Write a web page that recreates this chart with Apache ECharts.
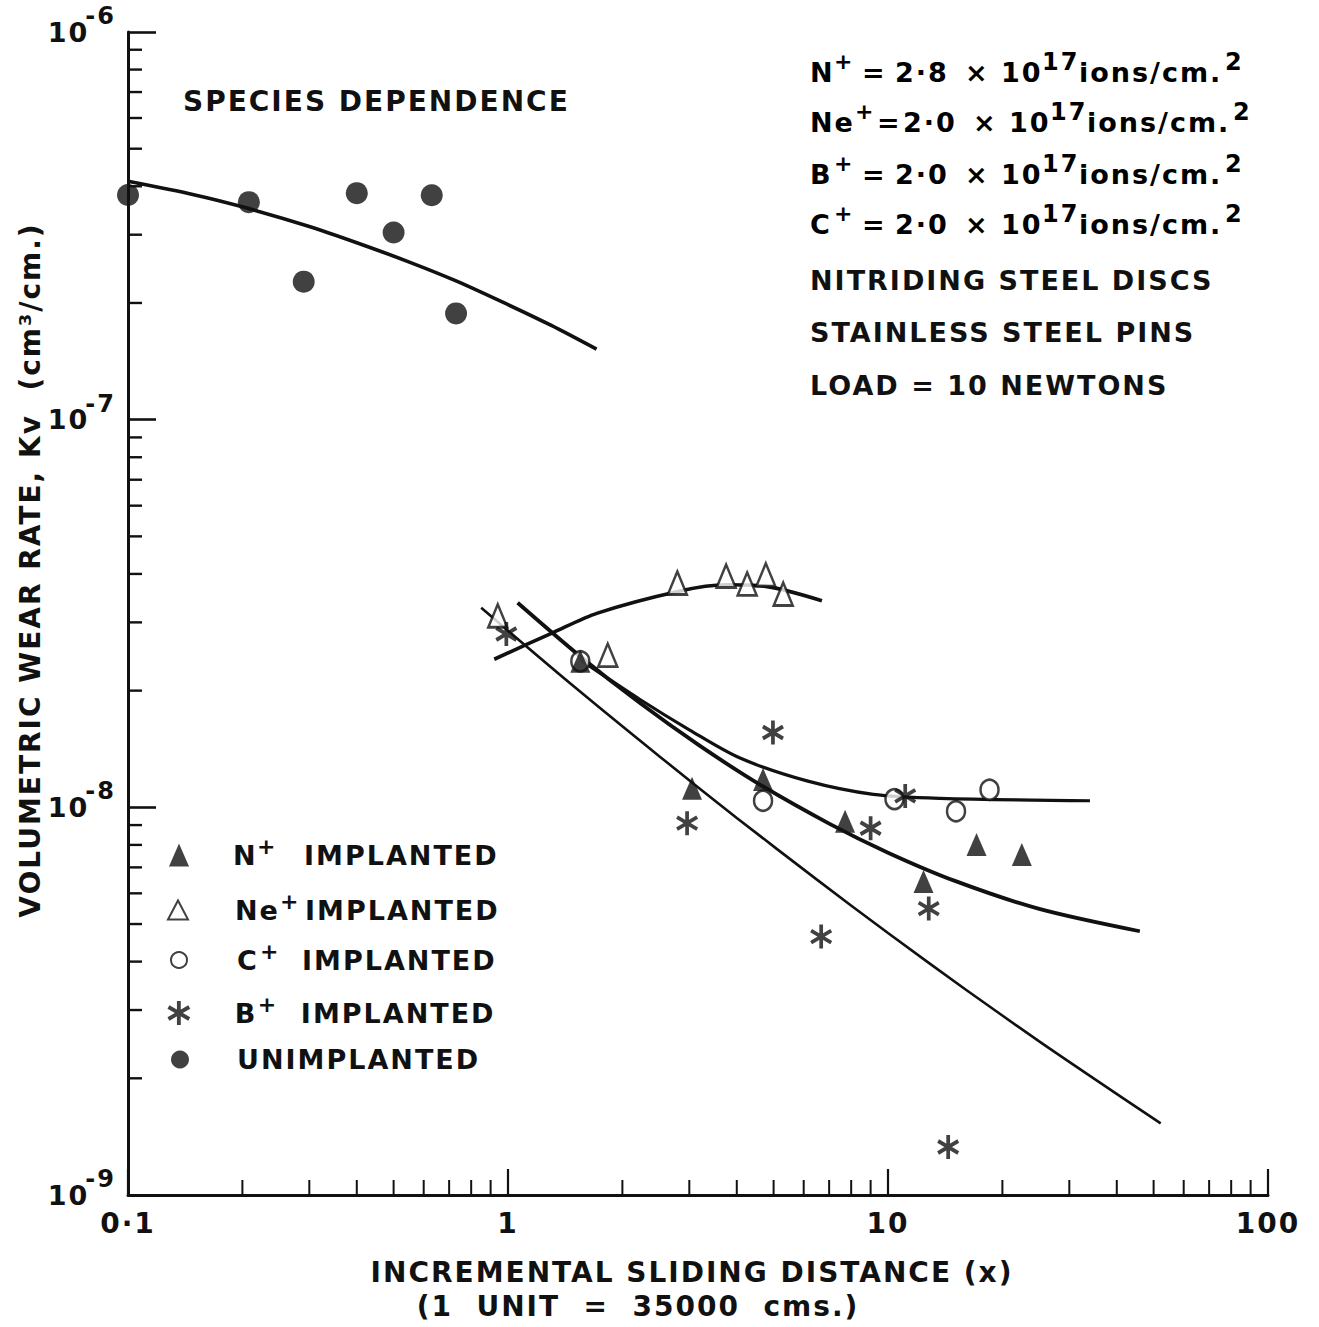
<!DOCTYPE html>
<html>
<head>
<meta charset="utf-8">
<script src="https://cdn.jsdelivr.net/npm/echarts@6/dist/echarts.min.js"></script>
<style>
  html, body { margin: 0; padding: 0; background: #fff; }
  #chart { width: 1319px; height: 1327px; }
  /* stencil-style lettering: wide tracking on every label */
  #chart text { letter-spacing: 2px; }
</style>
</head>
<body>
<div id="chart"></div>
<script>
// Incremental sliding distance x (1 unit = 35000 cm) vs volumetric wear rate Kv (cm^3/cm)

// measured points
const unimplanted = [[0.1, 3.8e-7], [0.208, 3.64e-7], [0.29, 2.27e-7], [0.40, 3.84e-7], [0.50, 3.04e-7], [0.63, 3.79e-7], [0.73, 1.88e-7]];
const nImplanted  = [[1.55, 2.38e-8], [3.05, 1.12e-8], [4.69, 1.18e-8], [7.71, 9.2e-9], [12.4, 6.44e-9], [17.1, 8.02e-9], [22.5, 7.56e-9]];
const neImplanted = [[0.94, 3.12e-8], [1.83, 2.47e-8], [2.79, 3.79e-8], [3.75, 3.95e-8], [4.26, 3.77e-8], [4.77, 3.98e-8], [5.3, 3.55e-8]];
const cImplanted  = [[1.55, 2.38e-8], [4.69, 1.04e-8], [10.4, 1.05e-8], [15.1, 9.77e-9], [18.5, 1.11e-8]];
const bImplanted  = [[0.99, 2.80e-8], [2.96, 9.1e-9], [4.98, 1.56e-8], [6.67, 4.64e-9], [9.0, 8.83e-9], [11.1, 1.07e-8], [12.8, 5.48e-9], [14.4, 1.33e-9]];

// hand-drawn trend curves
const unimplantedFit = [[0.1, 4.12e-7], [0.15, 3.80e-7], [0.2, 3.54e-7], [0.3, 3.15e-7], [0.4, 2.86e-7], [0.55, 2.55e-7], [0.73, 2.28e-7], [1.0, 1.98e-7], [1.3, 1.75e-7], [1.71, 1.52e-7]];
const neFit = [[0.92, 2.41e-8], [1.31, 2.82e-8], [1.72, 3.17e-8], [2.82, 3.61e-8], [3.75, 3.75e-8], [4.72, 3.72e-8], [6.7, 3.41e-8]];
const nFit  = [[1.06, 3.37e-8], [1.55, 2.45e-8], [2.22, 1.86e-8], [3.2, 1.44e-8], [4.6, 1.145e-8], [7.0, 9.08e-9], [10, 7.64e-9], [15, 6.46e-9], [25, 5.47e-9], [46, 4.79e-9]];
const cFit  = [[1.55, 2.40e-8], [2.22, 1.90e-8], [3.0, 1.585e-8], [4.08, 1.34e-8], [6.12, 1.17e-8], [9.15, 1.08e-8], [13.7, 1.055e-8], [34, 1.04e-8]];
const bFit  = [[0.85, 3.27e-8], [1.5, 2.04e-8], [2.5, 1.355e-8], [4.0, 9.39e-9], [6.5, 6.51e-9], [10, 4.74e-9], [16, 3.39e-9], [25, 2.49e-9], [35, 1.99e-9], [52.2, 1.53e-9]];

// axis ticks
const xTickValues = [0.1, 1, 10, 100];
const xTickLabels = ['0·1', '1', '10', '100'];
const yTickValues = [1e-9, 1e-8, 1e-7, 1e-6];
const yTickExponents = ['-9', '-8', '-7', '-6'];
const minorSteps = [2, 3, 4, 5, 6, 7, 8, 9];
const xDecades = [0.1, 1, 10];
const yDecades = [1e-9, 1e-8, 1e-7];

// annotation text
const speciesTitle = 'SPECIES DEPENDENCE';
const doseIons = ['N', 'Ne', 'B', 'C'];
const doseValues = ['2·8', '2·0', '2·0', '2·0'];
const dosePower = '17';
const doseUnit = 'ions/cm.';
const conditionRows = ['NITRIDING STEEL DISCS', 'STAINLESS STEEL PINS', 'LOAD = 10 NEWTONS'];
const xTitle = 'INCREMENTAL SLIDING DISTANCE (x)';
const xSubtitle = '(1  UNIT  =  35000  cms.)';
const yTitle = 'VOLUMETRIC WEAR RATE, Kv  (cm³/cm.)';

const seriesNames = ['N+ IMPLANTED', 'Ne+ IMPLANTED', 'C+ IMPLANTED', 'B+ IMPLANTED', 'UNIMPLANTED'];
const legendIons = ['N', 'Ne', 'C', 'B', ''];

const FONT = '"DejaVu Sans", "Noto Sans", sans-serif';
const INK = '#111';
const X_MIN = 0.1, X_MAX = 100, Y_MIN = 1e-9, Y_MAX = 1e-6;

// six-armed asterisk built from three bars
const STAR = 'path://M-1.6,-10L1.6,-10L1.6,10L-1.6,10Z' +
  'M7.86,-6.386L9.46,-3.614L-7.86,6.386L-9.46,3.614Z' +
  'M9.46,3.614L7.86,6.386L-9.46,-3.614L-7.86,-6.386Z';

const openStyle = { color: '#fff', borderColor: INK, borderWidth: 2.6 };
const solidStyle = { color: INK };

function tickIndex(v, values) {
  const lv = Math.log10(v);
  for (let i = 0; i < values.length; i++) {
    if (Math.abs(lv - Math.log10(values[i])) < 1e-3) return i;
  }
  return -1;
}

const xMinor = xDecades.flatMap(d => minorSteps.map(m => m * d));
const yMinor = yDecades.flatMap(d => minorSteps.map(m => m * d));

function fitLine(name, data, width) {
  return {
    name, type: 'line', data, smooth: 0.3, symbol: 'none', showSymbol: false,
    lineStyle: { color: INK, width }, z: 2, silent: true
  };
}

function markers(name, data, symbol, size, style, z) {
  return { name, type: 'scatter', data, symbol, symbolSize: size, itemStyle: style, z, silent: true };
}

// text style helpers
const base = (size, lh, extra) => Object.assign({ fontFamily: FONT, fontWeight: 'bold', fontSize: size, lineHeight: lh, color: INK }, extra || {});
const sup = (size, extra) => Object.assign({ fontFamily: FONT, fontWeight: 'bold', fontSize: size, lineHeight: size, verticalAlign: 'top', color: INK }, extra || {});

// legend rows: icon centre, icon size, ion-letter and charge widths
const legendRows = [
  { cx: 179, cy: 855, w: 20, h: 23, start: 233, ionW: 24, chgW: 47 },
  { cx: 177, cy: 910, w: 20, h: 19, start: 234, ionW: 45, chgW: 25 },
  { cx: 178, cy: 960, w: 16, h: 16, start: 236, ionW: 23, chgW: 42 },
  { cx: 180, cy: 1013, w: 25, h: 24, start: 236, ionW: 23, chgW: 43 },
  { cx: 180, cy: 1066, w: 18, h: 18, start: 237, ionW: 0, chgW: 0 }
];

const legends = legendRows.map((r, i) => {
  const left = r.cx - r.w / 2;
  const pad = r.start - (left + r.w + 5);
  return {
    data: [seriesNames[i]],
    orient: 'vertical',
    left, top: r.cy - 20,
    padding: 0,
    itemWidth: r.w, itemHeight: r.h,
    selectedMode: false,
    formatter: () => legendIons[i]
      ? '{a|' + legendIons[i] + '}{s|+}{b|IMPLANTED}'
      : '{u|UNIMPLANTED}',
    textStyle: {
      color: INK, fontFamily: FONT, fontWeight: 'bold', fontSize: 27,
      rich: {
        a: base(27, 40, { width: r.ionW, padding: [0, 0, 0, pad] }),
        s: sup(22, { width: r.chgW }),
        b: base(27, 40),
        u: base(27, 40, { padding: [0, 0, 0, pad] })
      }
    }
  };
});

// dose lines: fixed columns for ion, '=', value, '×', power of ten, unit
const doseRich = {
  i1: base(27, 44, { width: 24 }), i2: base(27, 44, { width: 45 }),
  c1: sup(22, { width: 28 }), c2: sup(22, { width: 22 }),
  e1: base(27, 44, { width: 33 }), e2: base(27, 44, { width: 26 }),
  v: base(27, 44, { width: 70 }),
  m: base(27, 44, { width: 36 }), t: base(27, 44, { width: 41 }),
  x: sup(24, { width: 37 }), u: base(27, 44, { width: 146 }), q: sup(24)
};
const doseY = [72, 122, 174, 224];
const condY = [280, 332, 385];

const graphics = [];
doseIons.forEach((ion, i) => {
  const k = ion.length > 1 ? '2' : '1';
  graphics.push({
    type: 'text', x: 810, y: doseY[i], silent: true,
    style: {
      text: '{i' + k + '|' + ion + '}{c' + k + '|+}{e' + k + '|=}{v|' + doseValues[i] + '}' +
        '{m|×}{t|10}{x|' + dosePower + '}{u|' + doseUnit + '}{q|2}',
      rich: doseRich, textAlign: 'left', textVerticalAlign: 'middle'
    }
  });
});
conditionRows.forEach((t, i) => {
  graphics.push({
    type: 'text', x: 810, y: condY[i], silent: true,
    style: { text: t, font: 'bold 27px ' + FONT, fill: INK, textAlign: 'left', textVerticalAlign: 'middle' }
  });
});
graphics.push(
  { type: 'text', x: 183, y: 101, silent: true,
    style: { text: speciesTitle, font: 'bold 28px ' + FONT, fill: INK, textAlign: 'left', textVerticalAlign: 'middle' } },
  { type: 'text', x: 692, y: 1272, silent: true,
    style: { text: xTitle, font: 'bold 28px ' + FONT, fill: INK, textAlign: 'center', textVerticalAlign: 'middle' } },
  { type: 'text', x: 638, y: 1306, silent: true,
    style: { text: xSubtitle, font: 'bold 28px ' + FONT, fill: INK, textAlign: 'center', textVerticalAlign: 'middle' } },
  { type: 'text', x: 30, y: 570, rotation: Math.PI / 2, silent: true,
    style: { text: yTitle, font: 'bold 28px ' + FONT, fill: INK, textAlign: 'center', textVerticalAlign: 'middle' } }
);

const chart = echarts.init(document.getElementById('chart'), null, { renderer: 'svg' });

chart.setOption({
  animation: false,
  backgroundColor: '#fff',
  grid: { left: 128, right: 51, top: 32, bottom: 132, containLabel: false, outerBoundsMode: 'none' },
  xAxis: {
    type: 'log', logBase: 10, min: X_MIN, max: X_MAX, splitNumber: 3,
    axisLine: { onZero: false, lineStyle: { color: INK, width: 3 } },
    axisTick: { inside: true, length: 26, lineStyle: { color: INK, width: 2.2 } },
    minorTick: { show: false },
    splitLine: { show: false },
    axisLabel: {
      margin: 14, color: INK, fontFamily: FONT, fontWeight: 'bold', fontSize: 28,
      formatter: v => { const i = tickIndex(v, xTickValues); return i < 0 ? '' : xTickLabels[i]; }
    }
  },
  yAxis: {
    type: 'log', logBase: 10, min: Y_MIN, max: Y_MAX, splitNumber: 3,
    axisLine: { onZero: false, lineStyle: { color: INK, width: 3 } },
    axisTick: { inside: true, length: 28, lineStyle: { color: INK, width: 2.6 } },
    minorTick: { show: false },
    splitLine: { show: false },
    axisLabel: {
      margin: 12, color: INK,
      formatter: v => { const i = tickIndex(v, yTickValues); return i < 0 ? '' : '{b|10}{s|' + yTickExponents[i] + '}'; },
      rich: {
        b: base(27, 56, { width: 42 }),
        s: sup(24)
      }
    }
  },
  legend: legends,
  graphic: graphics,
  series: [
    fitLine('unimplanted trend', unimplantedFit, 3.6),
    fitLine('Ne+ trend', neFit, 3.6),
    fitLine('N+ trend', nFit, 3.8),
    fitLine('C+ trend', cFit, 3.2),
    fitLine('B+ trend', bFit, 2.6),
    markers(seriesNames[2], cImplanted, 'circle', [18, 20], openStyle, 3),
    markers(seriesNames[1], neImplanted, 'triangle', [19, 23], openStyle, 3),
    markers(seriesNames[3], bImplanted, STAR, [22, 24], solidStyle, 3),
    markers(seriesNames[0], nImplanted, 'triangle', [20, 23], solidStyle, 4),
    markers(seriesNames[4], unimplanted, 'circle', 22, solidStyle, 3),
    {
      name: 'x minor ticks', type: 'custom', data: xMinor.map(v => [v, Y_MIN]), clip: false, silent: true, z: 4,
      renderItem: (params, api) => {
        const p = api.coord([api.value(0), api.value(1)]);
        return { type: 'line', shape: { x1: p[0], y1: p[1], x2: p[0], y2: p[1] - 15 }, style: { stroke: INK, lineWidth: 2 } };
      }
    },
    {
      name: 'y minor ticks', type: 'custom', data: yMinor.map(v => [X_MIN, v]), clip: false, silent: true, z: 4,
      renderItem: (params, api) => {
        const p = api.coord([api.value(0), api.value(1)]);
        return { type: 'line', shape: { x1: p[0], y1: p[1], x2: p[0] + 14, y2: p[1] }, style: { stroke: INK, lineWidth: 2.4 } };
      }
    }
  ]
});
</script>
</body>
</html>
